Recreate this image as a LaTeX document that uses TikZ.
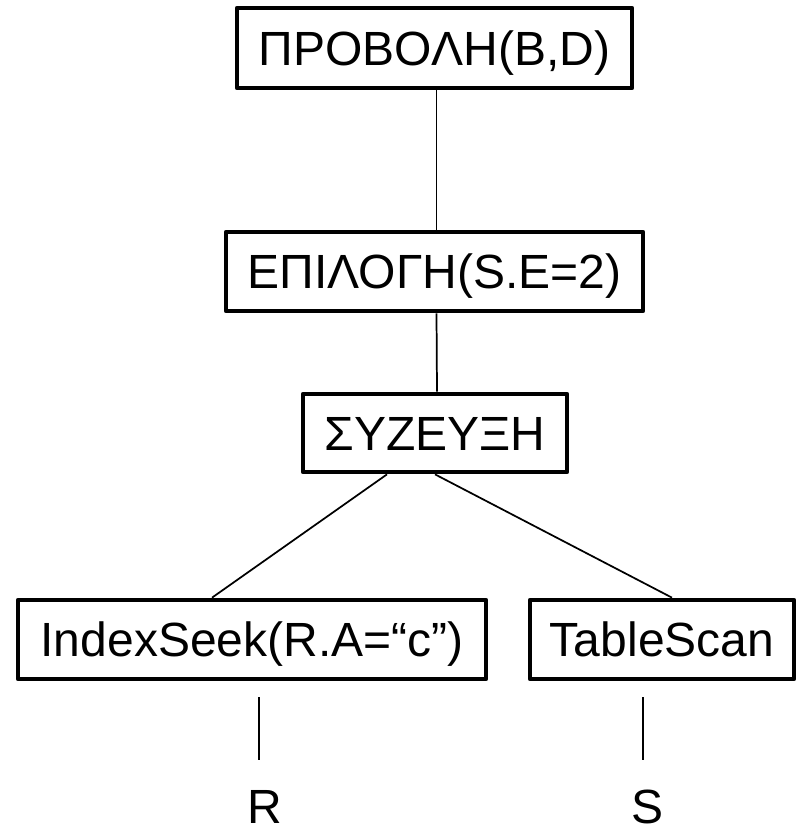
\documentclass[tikz,border=0pt]{standalone}
\usepackage{fontspec}
\setmainfont{Liberation Sans}
\begin{document}
\begin{tikzpicture}[x=0.75pt,y=-0.75pt,
  opbox/.style={draw, line width=3.5pt, line join=round, inner sep=0pt,
    font=\fontsize{36}{40}\selectfont, text height=25.8pt, text depth=0pt},
  leaf/.style={inner sep=0pt, font=\fontsize{36}{40}\selectfont,
    text height=25.8pt, text depth=0pt},
  link/.style={line width=1.3pt}]
\useasboundingbox (0,0) rectangle (796,835);

% operator tree
\node[opbox, minimum width=296.25pt, minimum height=60pt]   (proj) at (434.5,48)    {ΠΡΟΒΟΛΗ(B,D)};
\node[opbox, minimum width=312.75pt, minimum height=59.25pt] (sel)  at (434.5,271.5) {ΕΠΙΛΟΓΗ(S.E=2)};
\node[opbox, minimum width=198pt, minimum height=58.5pt]    (join) at (435,433)     {ΣΥΖΕΥΞΗ};
\node[opbox, minimum width=351pt, minimum height=59.25pt]   (seek) at (252,639.5)   {IndexSeek(R.A=“c”)};
\node[opbox, minimum width=198pt, minimum height=59.25pt]   (scan) at (662,639.5)   {TableScan};

% base relations
\node[leaf] (relR) at (264.5,806) {R};
\node[leaf] (relS) at (647.5,806) {S};
\coordinate (r1) at (259,697);
\coordinate (r2) at (259,760);
\coordinate (s1) at (643,697);
\coordinate (s2) at (643,760);

% connectors
\draw[link] ([xshift=1.5pt]proj.south) -- ([xshift=1.5pt]sel.north);
\draw[link] ([xshift=1.5pt]sel.south) -- ([xshift=1.5pt]join.north);
\draw[link] ([xshift=-36pt]join.south) -- ([xshift=-30pt]seek.north);
\draw[link] (join.south) -- ([xshift=7.5pt]scan.north);
\draw[link] (r1) -- (r2);
\draw[link] (s1) -- (s2);
\end{tikzpicture}
\end{document}
